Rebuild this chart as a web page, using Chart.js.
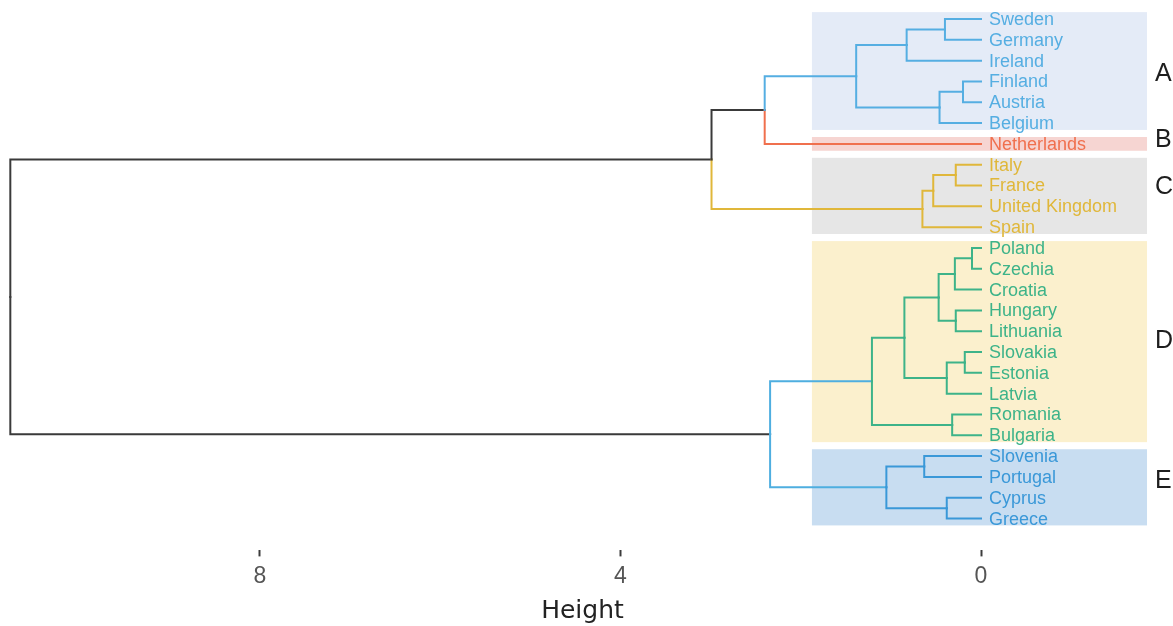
<!DOCTYPE html>
<html>
<head>
<meta charset="utf-8">
<script src="https://cdn.jsdelivr.net/npm/chart.js@4/dist/chart.umd.min.js"></script>
<style>
  html, body { margin: 0; padding: 0; background: #ffffff; }
  canvas { display: block; }
</style>
</head>
<body>
<canvas id="dend" width="1173" height="626"></canvas>
<script>
// Leaves in display order, top to bottom
const countries = [
  'Sweden', 'Germany', 'Ireland', 'Finland', 'Austria', 'Belgium',
  'Netherlands',
  'Italy', 'France', 'United Kingdom', 'Spain',
  'Poland', 'Czechia', 'Croatia', 'Hungary', 'Lithuania', 'Slovakia',
  'Estonia', 'Latvia', 'Romania', 'Bulgaria',
  'Slovenia', 'Portugal', 'Cyprus', 'Greece'
];
// Cluster of each leaf (same order as countries)
const clusters = [
  'A', 'A', 'A', 'A', 'A', 'A',
  'B',
  'C', 'C', 'C', 'C',
  'D', 'D', 'D', 'D', 'D', 'D', 'D', 'D', 'D', 'D',
  'E', 'E', 'E', 'E'
];
const clusterNames = ['A', 'B', 'C', 'D', 'E'];

// Agglomeration steps: a negative entry is a leaf (1-based position),
// a positive entry refers to an earlier step (1-based)
const mergeLeft   = [-12, -17, -4, -8, -15,   1, -20,   2, -24, -1,  3,  6,  4, -22,  13, 10, 12, 14, 17, 16, 19, 20, 22, 23];
const mergeRight  = [-13, -18, -5, -9, -16, -14, -21, -19, -25, -2, -6,  5, -10, -23, -11, -3,  8,  9,  7, 11, 18, -7, 15, 21];
const mergeHeight = [0.10, 0.18, 0.20, 0.28, 0.28, 0.29, 0.32, 0.38, 0.38, 0.40, 0.46, 0.47,
                     0.53, 0.63, 0.65, 0.825, 0.85, 1.05, 1.21, 1.385, 2.34, 2.40, 2.99, 10.77];

const heightTicks = [0, 4, 8];

// ---- styling ----
const branchColor = { A: '#55aee2', B: '#f0704e', C: '#e0b73a', D: '#3db389', E: '#3a98d8' };
const bandColor   = { A: '#e4ebf7', B: '#f6d5d2', C: '#e6e6e6', D: '#fbf0cd', E: '#c8ddf1' };
const neutralColor = '#3a3a3a';
// junctions drawn in a single colour on both sides (step number -> colour)
const junctionColor = { 21: '#4eaee0' };
const bandFrom = 1.876, bandTo = -1.842, bandHalf = 0.33;
const letterAt = { A: 2.64, B: 5.82, C: 8.08, D: 15.48, E: 22.21 };

// ---- build the tree geometry from the merge table ----
const nodes = [];
function getChild(ref) {
  if (ref < 0) {
    const i = -ref - 1;
    return { h: 0, y: i, groups: [clusters[i]] };
  }
  return nodes[ref - 1];
}
const datasets = [];
mergeLeft.forEach((l, k) => {
  const a = getChild(l), b = getChild(mergeRight[k]);
  const h = mergeHeight[k];
  const y = (a.y + b.y) / 2;
  const groups = Array.from(new Set([...a.groups, ...b.groups]));
  nodes.push({ h, y, groups });
  [a, b].forEach(c => {
    let col = c.groups.length === 1 ? branchColor[c.groups[0]] : neutralColor;
    if (junctionColor[k + 1]) col = junctionColor[k + 1];
    datasets.push({
      data: [{ x: c.h, y: c.y }, { x: h, y: c.y }, { x: h, y: y }],
      borderColor: col,
      borderWidth: 2,
      pointRadius: 0,
      pointHoverRadius: 0,
      showLine: true,
      fill: false,
      tension: 0,
      borderCapStyle: 'square',
      borderJoinStyle: 'miter'
    });
  });
});

// ---- cluster bands, leaf names and cluster letters ----
const dendroDecor = {
  id: 'dendroDecor',
  beforeDatasetsDraw(chart) {
    const { ctx, scales: { x, y } } = chart;
    ctx.save();
    clusterNames.forEach(name => {
      const first = clusters.indexOf(name);
      const last = clusters.lastIndexOf(name);
      const top = y.getPixelForValue(first - bandHalf);
      const bottom = y.getPixelForValue(last + bandHalf);
      const left = x.getPixelForValue(bandFrom);
      const right = x.getPixelForValue(bandTo);
      ctx.fillStyle = bandColor[name];
      ctx.fillRect(left, top, right - left, bottom - top);
    });
    ctx.restore();
  },
  afterDatasetsDraw(chart) {
    const { ctx, scales: { x, y } } = chart;
    ctx.save();
    ctx.font = "18px 'Liberation Sans', Arial, sans-serif";
    ctx.textBaseline = 'middle';
    ctx.textAlign = 'left';
    countries.forEach((name, i) => {
      ctx.fillStyle = branchColor[clusters[i]];
      ctx.fillText(name, x.getPixelForValue(0) + 8, y.getPixelForValue(i) + 1);
    });
    ctx.font = "25px 'Liberation Sans', Arial, sans-serif";
    ctx.fillStyle = '#1e1e1e';
    clusterNames.forEach(name => {
      ctx.fillText(name, x.getPixelForValue(bandTo) + 8, y.getPixelForValue(letterAt[name]));
    });
    ctx.restore();
  }
};

new Chart(document.getElementById('dend'), {
  type: 'scatter',
  data: { datasets },
  options: {
    responsive: false,
    animation: false,
    events: [],
    layout: { autoPadding: false, padding: { left: 5, right: 13, top: 0, bottom: 0 } },
    plugins: { legend: { display: false }, tooltip: { enabled: false } },
    scales: {
      x: {
        type: 'linear',
        reverse: true,
        min: -1.986,
        max: 10.829,
        afterBuildTicks: scale => { scale.ticks = heightTicks.map(v => ({ value: v })); },
        grid: {
          display: true, drawOnChartArea: false, drawTicks: true,
          tickLength: 6, tickColor: '#3c3c3c', tickWidth: 2
        },
        border: { display: false },
        ticks: {
          padding: 6,
          color: '#555555',
          font: { family: "'Liberation Sans Narrow', 'Liberation Sans', Arial, sans-serif", size: 23 }
        },
        title: {
          display: true,
          text: 'Height',
          color: '#222222',
          font: { family: "'DejaVu Sans', sans-serif", size: 25 },
          padding: { top: 0, bottom: 0 }
        }
      },
      y: {
        type: 'linear',
        display: false,
        reverse: true,
        min: -0.913,
        max: 25.53
      }
    }
  },
  plugins: [dendroDecor]
});
</script>
</body>
</html>
